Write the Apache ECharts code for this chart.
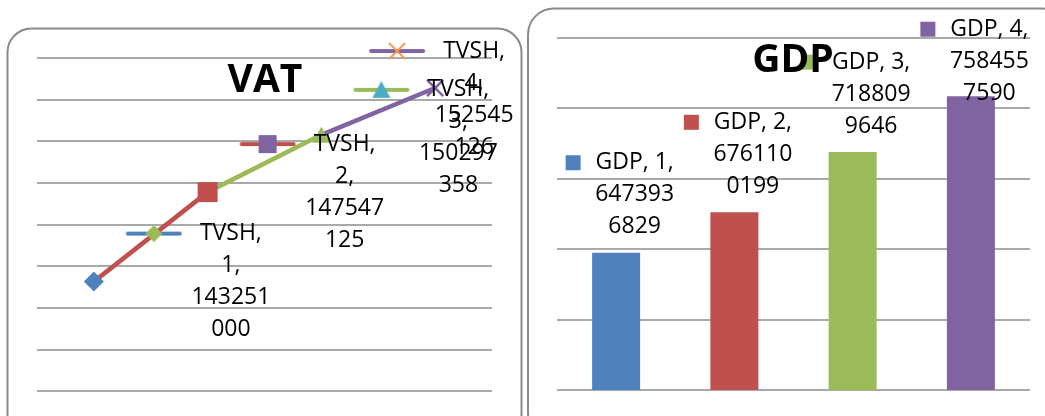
<!DOCTYPE html>
<html>
<head>
<meta charset="utf-8">
<script src="https://cdn.jsdelivr.net/npm/echarts@6/dist/echarts.min.js"></script>
<style>
html,body{margin:0;padding:0;background:#fff;}
#c{width:1045px;height:416px;}
</style>
</head>
<body>
<div id="c"></div>
<script>
// ---- data ----
const categories = ['1', '2', '3', '4'];
const vatName = 'TVSH';
const vatValues = [143251000, 147547125, 150297358, 152545126];
const gdpName = 'GDP';
const gdpValues = [6473936829, 6761100199, 7188099646, 7584557590];
const vatAxis = { min: 138000000, max: 154000000, interval: 2000000 };
const gdpAxis = { min: 5500000000, max: 8000000000, interval: 500000000 };
const titles = ['VAT', 'GDP'];

// ---- styles ----
const C = { blue: '#4F81BD', red: '#C0504D', green: '#9BBB59', purple: '#8064A2', cyan: '#4BACC6', orange: '#F79646' };
const pointColors = [C.blue, C.red, C.green, C.purple];
const keyLine = [C.blue, C.red, C.green, C.purple];
const keyMarkColor = [C.green, C.purple, C.cyan, C.orange];
const keyShapes = ['diamond', 'square', 'triangle', 'x'];
const pointSymbols = ['diamond', 'rect', 'triangle', 'path://M0,1L1,0L5,4L9,0L10,1L6,5L10,9L9,10L5,6L1,10L0,9L4,5Z'];
const pointSizes = [[20, 20], [20, 20], [18, 16], [18, 18]];
const gridColor = '#8c8c8c';
const FONT = 'Open Sans';

function makeKey(i) {
  const cv = document.createElement('canvas');
  cv.width = 61; cv.height = 20;
  const g = cv.getContext('2d');
  g.lineCap = 'round';
  g.strokeStyle = keyLine[i]; g.lineWidth = 4;
  g.beginPath(); g.moveTo(3, 10); g.lineTo(55, 10); g.stroke();
  const cx = 29, cy = 10;
  g.fillStyle = keyMarkColor[i]; g.strokeStyle = keyMarkColor[i];
  const s = keyShapes[i];
  if (s === 'diamond') {
    g.beginPath(); g.moveTo(cx, cy - 8.5); g.lineTo(cx + 8.5, cy); g.lineTo(cx, cy + 8.5); g.lineTo(cx - 8.5, cy); g.closePath(); g.fill();
  } else if (s === 'square') {
    g.fillRect(cx - 9, cy - 9, 18, 18);
  } else if (s === 'triangle') {
    g.beginPath(); g.moveTo(cx, cy - 9); g.lineTo(cx + 9, cy + 8); g.lineTo(cx - 9, cy + 8); g.closePath(); g.fill();
  } else {
    g.lineWidth = 1.8; g.lineCap = 'butt';
    g.beginPath(); g.moveTo(cx - 8, cy - 8); g.lineTo(cx + 8, cy + 8); g.moveTo(cx + 8, cy - 8); g.lineTo(cx - 8, cy + 8); g.stroke();
  }
  return cv;
}

const txt = { fontSize: 23, fontFamily: FONT, color: '#000', lineHeight: 32 };
const vatRich = { t: Object.assign({ width: 90, align: 'center' }, txt), sp: { width: 61, lineHeight: 32 } };
categories.forEach((c, i) => { vatRich['k' + i] = { width: 61, height: 20, lineHeight: 32, backgroundColor: { image: makeKey(i) } }; });
const gdpRich = { t: Object.assign({ width: 80, align: 'center' }, txt), g: { width: 14, lineHeight: 32 }, sp: { width: 29, lineHeight: 32 } };
categories.forEach((c, i) => { gdpRich['s' + i] = { width: 15, height: 15, lineHeight: 32, backgroundColor: pointColors[i] }; });

function splitNum(v) { const s = String(v); return [s.slice(0, 6), s.slice(6)]; }

const vatLabelOffsets = [[0, 0], [0, 0], [0, 3], [-98, 11]];
const gdpLabelOffsets = [[4, 0], [4, 0], [4, 0], [4, 23]];

const series = [];
// line segments, each coloured like its end point
for (let k = 0; k < vatValues.length - 1; k++) {
  series.push({
    type: 'line', xAxisIndex: 0, yAxisIndex: 0, silent: true,
    data: vatValues.map((v, i) => (i === k || i === k + 1) ? v : '-'),
    showSymbol: false, symbol: 'none', connectNulls: false,
    lineStyle: { color: pointColors[k + 1], width: 4.5, cap: 'round', opacity: 1 },
    itemStyle: { color: pointColors[k + 1] }, z: 2
  });
}
series.push({
  type: 'scatter', name: vatName, xAxisIndex: 0, yAxisIndex: 0, z: 3,
  itemStyle: { opacity: 1 },
  data: vatValues.map((v, i) => ({
    value: v, symbol: pointSymbols[i], symbolSize: pointSizes[i],
    itemStyle: { color: pointColors[i], opacity: 1 },
    label: { distance: 31 - pointSizes[i][0] / 2, offset: vatLabelOffsets[i] }
  })),
  label: {
    show: true, position: 'right', lineHeight: 32, rich: vatRich,
    formatter: p => { const n = splitNum(p.value); return `{k${p.dataIndex}|}{t|${p.seriesName},}\n{sp|}{t|${categories[p.dataIndex]},}\n{sp|}{t|${n[0]}}\n{sp|}{t|${n[1]}}`; }
  }
});
series.push({
  type: 'bar', name: gdpName, xAxisIndex: 1, yAxisIndex: 1, barWidth: 48,
  data: gdpValues.map((v, i) => ({ value: v, itemStyle: { color: pointColors[i] }, label: { offset: gdpLabelOffsets[i] } })),
  label: {
    show: true, position: 'top', distance: 10, lineHeight: 32, rich: gdpRich,
    formatter: p => { const n = splitNum(p.value); return `{s${p.dataIndex}|}{g|}{t|${p.seriesName}, ${categories[p.dataIndex]},}\n{sp|}{t|${n[0]}}\n{sp|}{t|${n[1]}}`; }
  }
});

function xAx(gi) {
  return { type: 'category', gridIndex: gi, data: categories, boundaryGap: true,
    axisLine: { show: false }, axisTick: { show: false }, axisLabel: { show: false }, splitLine: { show: false } };
}
function yAx(gi, a) {
  return { type: 'value', gridIndex: gi, min: a.min, max: a.max, interval: a.interval,
    axisLine: { show: false }, axisTick: { show: false }, axisLabel: { show: false },
    splitLine: { show: true, lineStyle: { color: gridColor, width: 1.6 } } };
}

const option = {
  animation: false,
  backgroundColor: '#fff',
  title: [
    { text: titles[0], left: 265, top: 61, textAlign: 'center', padding: 0, textStyle: { fontSize: 39, fontWeight: 'bold', fontFamily: FONT, color: '#000' } },
    { text: titles[1], left: 793, top: 41, textAlign: 'center', padding: 0, textStyle: { fontSize: 39, fontWeight: 'bold', fontFamily: FONT, color: '#000' } }
  ],
  grid: [
    { left: 37, right: 553, top: 57.7, bottom: 25 },
    { left: 557, right: 15, top: 37.7, bottom: 26 }
  ],
  xAxis: [xAx(0), xAx(1)],
  yAxis: [yAx(0, vatAxis), yAx(1, gdpAxis)],
  graphic: [
    { type: 'rect', shape: { x: 7.5, y: 28.5, width: 514, height: 420, r: 24 }, style: { fill: 'none', stroke: '#8a8a8a', lineWidth: 2 }, z: -1 },
    { type: 'rect', shape: { x: 528, y: 8.5, width: 540, height: 430, r: 26 }, style: { fill: 'none', stroke: '#8a8a8a', lineWidth: 2 }, z: -1 }
  ],
  series: series
};

const chart = echarts.init(document.getElementById('c'), null, { renderer: 'canvas' });
chart.setOption(option);
</script>
</body>
</html>
